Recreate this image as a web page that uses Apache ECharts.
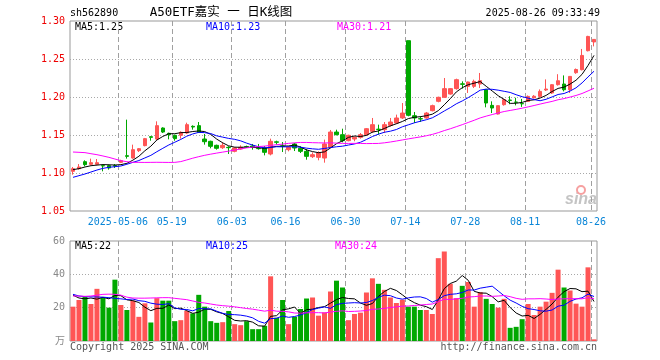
<!DOCTYPE html>
<html><head><meta charset="utf-8">
<script src="https://cdn.jsdelivr.net/npm/echarts@6/dist/echarts.min.js"></script>
<style>html,body{margin:0;padding:0;background:#fff}#c{width:660px;height:360px}</style>
</head><body><div id="c"></div>
<script>
const dates = ['2025-04-21','2025-04-22','2025-04-23','2025-04-24','2025-04-25','2025-04-28','2025-04-29','2025-04-30',
'2025-05-06','2025-05-07','2025-05-08','2025-05-09','2025-05-12','2025-05-13','2025-05-14','2025-05-15','2025-05-16',
'2025-05-19','2025-05-20','2025-05-21','2025-05-22','2025-05-23','2025-05-26','2025-05-27','2025-05-28','2025-05-29','2025-05-30',
'2025-06-03','2025-06-04','2025-06-05','2025-06-06','2025-06-09','2025-06-10','2025-06-11','2025-06-12','2025-06-13',
'2025-06-16','2025-06-17','2025-06-18','2025-06-19','2025-06-20','2025-06-23','2025-06-24','2025-06-25','2025-06-26','2025-06-27',
'2025-06-30','2025-07-01','2025-07-02','2025-07-03','2025-07-04','2025-07-07','2025-07-08','2025-07-09','2025-07-10','2025-07-11',
'2025-07-14','2025-07-15','2025-07-16','2025-07-17','2025-07-18','2025-07-21','2025-07-22','2025-07-23','2025-07-24','2025-07-25',
'2025-07-28','2025-07-29','2025-07-30','2025-07-31','2025-08-01','2025-08-04','2025-08-05','2025-08-06','2025-08-07','2025-08-08',
'2025-08-11','2025-08-12','2025-08-13','2025-08-14','2025-08-15','2025-08-18','2025-08-19','2025-08-20','2025-08-21','2025-08-22',
'2025-08-25','2025-08-26'];

const openP = [1.1022,1.1057,1.1149,1.1114,1.1114,1.1097,1.1097,1.1097,1.1140,1.1228,
1.1197,1.1294,1.1360,1.1478,1.1447,1.1592,1.1522,1.1496,1.1496,1.1526,
1.1614,1.1623,1.1447,1.1417,1.1364,1.1333,1.1338,1.1285,1.1316,1.1346,
1.1355,1.1324,1.1329,1.1250,1.1410,1.1357,1.1307,1.1382,1.1325,1.1285,
1.1215,1.1206,1.1197,1.1338,1.1539,1.1504,1.1425,1.1447,1.1469,1.1504,
1.1548,1.1577,1.1570,1.1627,1.1658,1.1724,1.2741,1.1754,1.1715,1.1724,
1.1820,1.1943,1.1996,1.2039,1.2110,1.2173,1.2140,1.2140,1.2171,1.2096,
1.1890,1.1776,1.1899,1.1960,1.1934,1.1914,1.1942,1.1990,1.2008,1.2092,
1.2053,1.2162,1.2171,1.2096,1.2320,1.2359,1.2609,1.2724];
const closeP = [1.1057,1.1079,1.1110,1.1136,1.1136,1.1093,1.1066,1.1093,1.1162,1.1219,
1.1307,1.1320,1.1452,1.1469,1.1623,1.1539,1.1504,1.1452,1.1535,1.1636,
1.1605,1.1535,1.1412,1.1351,1.1325,1.1364,1.1333,1.1329,1.1338,1.1342,
1.1338,1.1320,1.1272,1.1417,1.1404,1.1351,1.1338,1.1329,1.1285,1.1219,
1.1241,1.1263,1.1382,1.1539,1.1504,1.1425,1.1496,1.1469,1.1504,1.1583,
1.1636,1.1572,1.1636,1.1671,1.1724,1.1789,1.1759,1.1724,1.1711,1.1789,
1.1886,1.1996,1.2110,1.2110,1.2228,1.2167,1.2197,1.2206,1.2215,1.1921,
1.1855,1.1886,1.1965,1.1955,1.1930,1.1910,1.2008,1.2010,1.2074,1.2105,
1.2162,1.2214,1.2096,1.2271,1.2362,1.2547,1.2797,1.2758];
const lowP = [1.0978,1.1044,1.1088,1.1101,1.1101,1.1022,1.1044,1.1066,1.1132,1.1189,
1.1189,1.1276,1.1351,1.1425,1.1434,1.1526,1.1443,1.1425,1.1452,1.1513,
1.1570,1.1526,1.1373,1.1325,1.1307,1.1316,1.1250,1.1272,1.1307,1.1329,
1.1307,1.1307,1.1232,1.1232,1.1373,1.1276,1.1285,1.1289,1.1263,1.1175,
1.1197,1.1167,1.1136,1.1329,1.1496,1.1404,1.1417,1.1417,1.1452,1.1491,
1.1526,1.1504,1.1526,1.1610,1.1645,1.1711,1.1746,1.1658,1.1671,1.1715,
1.1811,1.1930,1.1987,1.2031,1.2096,1.2110,1.2053,1.2118,1.2118,1.1864,
1.1789,1.1770,1.1886,1.1905,1.1890,1.1870,1.1935,1.1980,1.1990,1.2080,
1.2040,1.2150,1.2074,1.2053,1.2305,1.2350,1.2600,1.2666];
const highP = [1.1079,1.1118,1.1167,1.1189,1.1184,1.1110,1.1110,1.1118,1.1175,1.1702,
1.1373,1.1329,1.1461,1.1482,1.1680,1.1601,1.1531,1.1504,1.1548,1.1662,
1.1627,1.1671,1.1513,1.1425,1.1373,1.1404,1.1351,1.1338,1.1364,1.1360,
1.1382,1.1382,1.1355,1.1452,1.1425,1.1408,1.1351,1.1395,1.1351,1.1316,
1.1272,1.1285,1.1439,1.1566,1.1570,1.1583,1.1504,1.1482,1.1526,1.1592,
1.1724,1.1636,1.1671,1.1724,1.1768,1.1921,1.2741,1.1803,1.1746,1.1803,
1.1899,1.2004,1.2250,1.2118,1.2241,1.2206,1.2202,1.2228,1.2316,1.2105,
1.1943,1.1890,1.1975,1.2010,1.1990,1.1975,1.2020,1.2025,1.2100,1.2232,
1.2170,1.2300,1.2284,1.2275,1.2375,1.2632,1.2805,1.2762];

const ma5 = [1.1044,1.1057,1.1079,1.1096,1.1104,1.1111,1.1108,1.1105,1.1110,1.1127,
1.1169,1.1220,1.1292,1.1353,1.1434,1.1481,1.1517,1.1517,1.1531,1.1533,
1.1546,1.1553,1.1545,1.1508,1.1446,1.1397,1.1357,1.1340,1.1338,1.1341,
1.1336,1.1333,1.1322,1.1338,1.1350,1.1353,1.1356,1.1368,1.1341,1.1304,
1.1282,1.1267,1.1278,1.1329,1.1386,1.1423,1.1469,1.1487,1.1480,1.1495,
1.1538,1.1553,1.1586,1.1620,1.1648,1.1678,1.1716,1.1733,1.1741,1.1754,
1.1774,1.1821,1.1898,1.1978,1.2066,1.2122,1.2162,1.2182,1.2203,1.2141,
1.2079,1.2017,1.1968,1.1916,1.1918,1.1929,1.1954,1.1963,1.1986,1.2021,
1.2072,1.2113,1.2130,1.2170,1.2221,1.2298,1.2415,1.2547];
const ma10 = [1.0943,1.0965,1.0987,1.1013,1.1039,1.1061,1.1075,1.1083,1.1092,1.1115,
1.1140,1.1164,1.1198,1.1232,1.1280,1.1325,1.1369,1.1405,1.1442,1.1484,
1.1514,1.1535,1.1531,1.1519,1.1489,1.1472,1.1455,1.1443,1.1423,1.1393,
1.1367,1.1345,1.1331,1.1338,1.1346,1.1344,1.1345,1.1345,1.1340,1.1327,
1.1318,1.1312,1.1323,1.1335,1.1345,1.1353,1.1368,1.1382,1.1404,1.1441,
1.1480,1.1511,1.1536,1.1550,1.1572,1.1608,1.1634,1.1660,1.1681,1.1701,
1.1726,1.1769,1.1816,1.1860,1.1910,1.1948,1.1992,1.2040,1.2090,1.2104,
1.2101,1.2090,1.2075,1.2060,1.2030,1.2004,1.1985,1.1966,1.1951,1.1970,
1.2001,1.2033,1.2046,1.2078,1.2121,1.2185,1.2264,1.2339];
const ma30 = [1.1276,1.1272,1.1268,1.1254,1.1241,1.1224,1.1206,1.1184,1.1162,1.1149,
1.1140,1.1140,1.1139,1.1140,1.1141,1.1140,1.1139,1.1140,1.1150,1.1172,
1.1195,1.1215,1.1233,1.1248,1.1262,1.1275,1.1288,1.1302,1.1316,1.1331,
1.1340,1.1348,1.1354,1.1363,1.1372,1.1380,1.1390,1.1397,1.1402,1.1402,
1.1399,1.1397,1.1395,1.1397,1.1393,1.1390,1.1389,1.1390,1.1389,1.1387,
1.1388,1.1389,1.1397,1.1408,1.1421,1.1435,1.1449,1.1462,1.1475,1.1490,
1.1508,1.1531,1.1558,1.1582,1.1609,1.1636,1.1665,1.1694,1.1725,1.1748,
1.1769,1.1790,1.1809,1.1823,1.1837,1.1853,1.1870,1.1888,1.1907,1.1925,
1.1942,1.1964,1.1979,1.1999,1.2020,1.2046,1.2080,1.2115];

const volume = [20.6,24.6,26.7,22.2,31.3,26.3,20.0,36.8,21.6,18.6,
24.2,14.5,22.6,11.1,25.7,24.2,24.2,11.9,12.5,18.0,
16.6,27.7,20.6,11.9,10.9,11.3,18.0,10.1,9.5,11.9,
7.1,7.1,9.1,38.8,13.9,24.6,10.1,14.5,19.2,25.5,
26.1,15.2,17.2,29.7,36.2,32.1,12.5,16.2,17.0,29.1,
37.6,34.3,30.7,26.1,22.8,24.8,20.6,20.6,18.6,18.6,
16.2,49.7,53.7,34.3,25.7,33.1,35.4,20.6,29.3,25.3,
22.2,20.0,25.3,7.9,8.5,13.1,22.2,15.6,20.6,23.6,
28.9,42.8,32.1,30.3,22.4,20.6,44.2,1.0];
const vma5 = [27.5,25.8,25.3,25.8,25.1,26.2,25.3,27.3,27.2,24.7,
24.2,23.1,20.3,18.2,19.6,19.6,21.6,19.4,19.7,18.2,
16.6,17.3,19.1,19.0,17.5,16.5,14.5,12.4,12.0,12.2,
11.3,9.1,8.9,14.8,15.2,18.7,19.3,20.4,16.5,18.8,
19.1,20.1,20.6,22.7,24.9,26.1,25.5,25.3,22.8,21.4,
22.5,26.8,29.7,31.6,30.3,27.7,25.0,23.0,21.5,20.6,
18.9,24.7,31.4,34.5,35.9,39.3,36.4,29.8,28.8,28.7,
26.6,23.5,24.4,20.1,16.8,15.0,15.4,13.5,16.0,19.0,
22.2,26.3,29.6,31.5,31.3,29.6,29.9,23.7];
const vma10 = [28.0,27.0,26.6,26.5,26.4,26.3,26.0,25.6,25.3,24.9,
25.2,24.2,23.8,22.7,22.1,21.9,22.4,19.9,19.0,18.9,
18.1,19.5,19.3,19.3,17.9,16.6,15.9,15.8,15.5,14.9,
13.9,11.8,10.7,13.4,13.7,15.0,14.2,14.7,15.6,17.0,
18.9,19.7,20.5,19.6,21.8,22.6,22.8,23.0,22.8,23.1,
24.3,26.2,27.5,27.2,25.8,25.1,25.9,26.4,26.5,25.5,
23.3,24.9,27.2,28.0,28.3,29.1,30.6,30.6,31.7,32.3,
32.9,30.0,27.1,24.5,22.8,20.8,19.4,18.9,18.1,17.9,
18.6,20.9,21.5,23.8,25.2,25.9,28.1,26.7];
const vma30 = [27.0,27.0,26.8,27.0,27.5,28.0,28.1,28.0,27.5,26.3,
25.8,25.7,25.7,25.8,25.9,26.0,26.0,25.6,25.2,24.8,
24.0,23.2,22.8,22.2,21.6,21.2,20.9,20.5,20.0,19.5,
19.1,18.5,17.9,18.5,17.9,17.8,17.5,16.8,16.7,16.9,
17.0,17.0,16.8,17.4,17.8,18.1,17.7,17.8,18.0,18.3,
19.0,19.2,19.6,20.1,20.5,20.9,21.0,21.3,21.6,21.9,
22.2,23.6,25.1,24.9,25.3,25.6,26.4,26.6,27.0,27.0,
26.8,27.0,27.3,26.6,25.6,25.0,25.3,25.3,25.4,25.2,
24.9,25.2,25.3,25.4,25.4,25.3,26.0,25.4];

const tickDates = ['2025-05-06','2025-05-19','2025-06-03','2025-06-16','2025-06-30','2025-07-14','2025-07-28','2025-08-11','2025-08-26'];
const tickLabels = ['2025-05-06','05-19','06-03','06-16','06-30','07-14','07-28','08-11','08-26'];

const UP = '#ff5555', DOWN = '#00a800';
const MONO = "'DejaVu Sans Mono','Noto Sans CJK SC',monospace";

const edgeCats = dates.concat(['end']);
const tickSet = new Set(tickDates.map(d => dates.indexOf(d)));
const labelOf = {};
tickDates.forEach((d, k) => { labelOf[d] = tickLabels[k]; });

const chart = echarts.init(document.getElementById('c'), null, {renderer: 'canvas'});

function txt(x, y, text, fill, align, font) {
  return {type: 'text', x: x, y: y, silent: true,
    style: {text: text, fill: fill, font: font || ('10px ' + MONO), align: align || 'left', verticalAlign: 'middle'}};
}
const dashed = {color: '#a0a0a0', type: [5, 3], width: 1};
const dotted = {color: '#a8a8a8', type: [1, 2], width: 1};

chart.setOption({
  animation: false,
  backgroundColor: '#fff',
  grid: [
    {left: 70, top: 21, width: 527, height: 190, show: true, borderColor: '#999', borderWidth: 1},
    {left: 70, top: 241, width: 527, height: 100, show: true, borderColor: '#999', borderWidth: 1}
  ],
  xAxis: [
    {type: 'category', gridIndex: 0, data: dates, boundaryGap: true, axisLine: {show: false}, axisTick: {show: false}, axisLabel: {show: false}, splitLine: {show: false}},
    {type: 'category', gridIndex: 1, data: dates, boundaryGap: true, axisLine: {show: false}, axisTick: {show: false}, axisLabel: {show: false}, splitLine: {show: false}},
    {type: 'category', gridIndex: 0, data: edgeCats, boundaryGap: false, position: 'bottom',
      axisLine: {show: false}, axisTick: {show: false},
      axisLabel: {show: true, interval: (i) => tickSet.has(i), formatter: (v) => labelOf[v] || '', color: '#0a86d8', fontFamily: MONO, fontSize: 10, margin: 6},
      splitLine: {show: true, interval: (i) => tickSet.has(i), lineStyle: dashed}},
    {type: 'category', gridIndex: 1, data: edgeCats, boundaryGap: false, position: 'bottom',
      axisLine: {show: false}, axisTick: {show: false}, axisLabel: {show: false},
      splitLine: {show: true, interval: (i) => tickSet.has(i), lineStyle: dashed}}
  ],
  yAxis: [
    {type: 'value', gridIndex: 0, min: 1.05, max: 1.30, interval: 0.05,
      axisLine: {show: false}, axisTick: {show: false},
      axisLabel: {color: '#ee0000', fontFamily: MONO, fontSize: 10, margin: 5, formatter: (v) => v.toFixed(2)},
      splitLine: {show: true, showMinLine: false, showMaxLine: false, lineStyle: dotted}},
    {type: 'value', gridIndex: 1, min: 0, max: 60, interval: 20,
      axisLine: {show: false}, axisTick: {show: false},
      axisLabel: {color: '#888', fontFamily: MONO, fontSize: 10, margin: 5, formatter: (v) => v === 0 ? '万' : String(v)},
      splitLine: {show: true, showMinLine: false, showMaxLine: false, lineStyle: dotted}}
  ],
  series: [
    {type: 'candlestick', xAxisIndex: 0, yAxisIndex: 0, barWidth: 4, z: 2,
      data: dates.map((d, i) => [openP[i], closeP[i], lowP[i], highP[i]]),
      itemStyle: {color: UP, color0: DOWN, borderColor: UP, borderColor0: DOWN, borderWidth: 1}},
    {type: 'line', xAxisIndex: 0, yAxisIndex: 0, data: ma5, symbol: 'none', z: 3, lineStyle: {color: '#000', width: 1}},
    {type: 'line', xAxisIndex: 0, yAxisIndex: 0, data: ma10, symbol: 'none', z: 3, lineStyle: {color: '#0000ff', width: 1}},
    {type: 'line', xAxisIndex: 0, yAxisIndex: 0, data: ma30, symbol: 'none', z: 3, lineStyle: {color: '#ff00ff', width: 1}},
    {type: 'bar', xAxisIndex: 1, yAxisIndex: 1, data: volume, barWidth: 5, z: 2,
      itemStyle: {color: (p) => closeP[p.dataIndex] >= openP[p.dataIndex] ? UP : DOWN}},
    {type: 'line', xAxisIndex: 1, yAxisIndex: 1, data: vma5, symbol: 'none', z: 3, lineStyle: {color: '#000', width: 1}},
    {type: 'line', xAxisIndex: 1, yAxisIndex: 1, data: vma10, symbol: 'none', z: 3, lineStyle: {color: '#0000ff', width: 1}},
    {type: 'line', xAxisIndex: 1, yAxisIndex: 1, data: vma30, symbol: 'none', z: 3, lineStyle: {color: '#ff00ff', width: 1}}
  ],
  graphic: [
    txt(70, 13, 'sh562890', '#000'),
    txt(221, 13, 'A50ETF嘉实 一 日K线图', '#000', 'center', "12.5px " + MONO),
    txt(600, 13, '2025-08-26 09:33:49', '#000', 'right'),
    txt(75, 27, 'MA5:1.25', '#000'),
    txt(206, 27, 'MA10:1.23', '#0000ff'),
    txt(337, 27, 'MA30:1.21', '#ff00ff'),
    txt(75, 246, 'MA5:22', '#000'),
    txt(206, 246, 'MA10:25', '#0000ff'),
    txt(335, 246, 'MA30:24', '#ff00ff'),
    txt(70, 347, 'Copyright 2025 SINA.COM', '#555'),
    txt(597, 347, 'http://finance.sina.com.cn', '#555', 'right'),
    {type: 'circle', silent: true, z: 1, shape: {cx: 581, cy: 190, r: 4}, style: {fill: 'none', stroke: '#f6a0a0', lineWidth: 2}},
    txt(581, 200, 'sina', '#c4c4c4', 'center', "italic bold 16px 'Liberation Sans', Arial")
  ]
});
</script>
</body></html>
